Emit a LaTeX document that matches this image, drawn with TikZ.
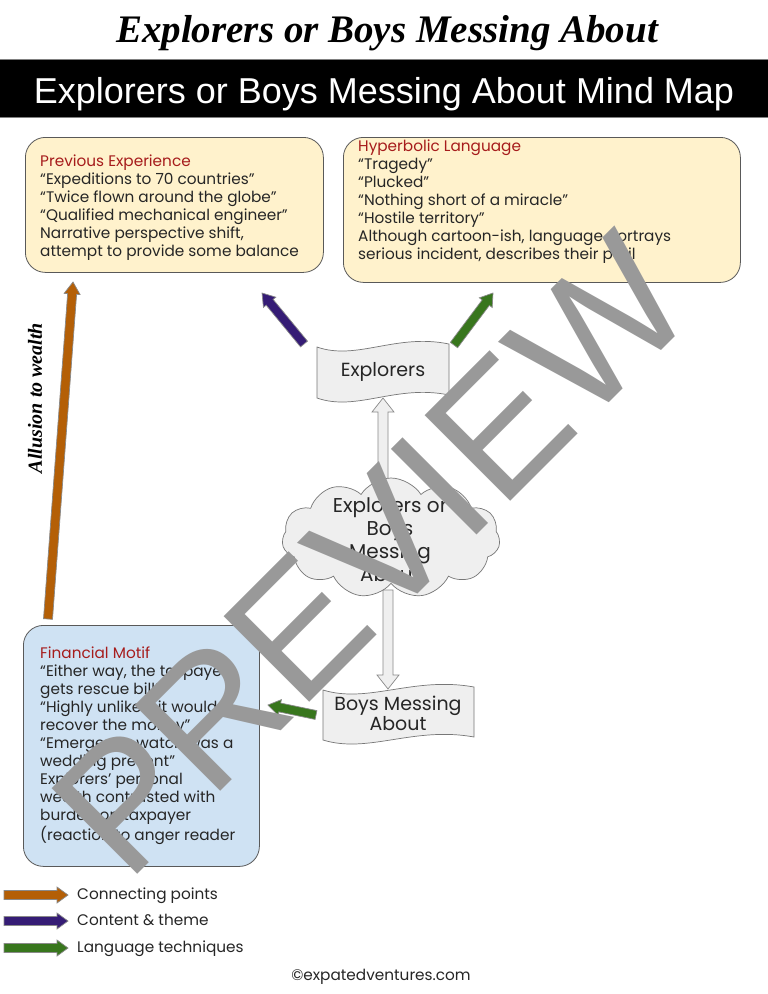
\documentclass[tikz,border=0pt]{standalone}
\usepackage{fontspec}
\setmainfont{Poppins}
\newfontfamily\hdrfont{Liberation Sans}
\newfontfamily\titlefnt{Liberation Serif}
\usetikzlibrary{shapes.symbols,calc}
\definecolor{yellowbox}{HTML}{FFF2CC}
\definecolor{bluebox}{HTML}{CFE2F3}
\definecolor{boxedge}{HTML}{595959}
\definecolor{titlered}{HTML}{A61C1C}
\definecolor{arrorange}{HTML}{B45F06}
\definecolor{arrpurple}{HTML}{351C75}
\definecolor{arrgreen}{HTML}{38761D}
\definecolor{shapefill}{HTML}{EFEFEF}
\definecolor{edgegray}{HTML}{777777}
\definecolor{arrowedge}{HTML}{8A8A8A}
\definecolor{wmgray}{HTML}{999999}
\definecolor{bodytext}{HTML}{262626}
\newcommand\blockarrow[6]{%
  \coordinate (ba-h) at ($(#2)!#6!(#1)$);
  \filldraw[fill=#3, draw=arrowedge, line width=0.7pt, line join=miter]
    ($(#1)!#4!90:(#2)$) -- ($(ba-h)!#4!-90:(#1)$) -- ($(ba-h)!#5!-90:(#1)$) -- (#2)
    -- ($(ba-h)!#5!90:(#1)$) -- ($(ba-h)!#4!90:(#1)$) -- ($(#1)!#4!-90:(#2)$) -- cycle;}
\newcommand\wavebox[4]{%
  \filldraw[fill=shapefill, draw=edgegray, line width=0.7pt]
  (#1,#2) .. controls ({#1+0.3*(#3-#1)},{#2+14}) and ({#1+0.6*(#3-#1)},{#2-14}) .. (#3,#2-3)
  -- (#3,#4-3) .. controls ({#1+0.6*(#3-#1)},{#4-14}) and ({#1+0.3*(#3-#1)},{#4+14}) .. (#1,#4) -- cycle;}
\tikzset{
  roundbox/.style={draw=boxedge, line width=0.8pt, rounded corners=20, inner sep=0pt, anchor=north west},
  boxtext/.style={anchor=base west, align=left, inner sep=0pt, text=bodytext,
    font=\fontsize{15.3}{18}\selectfont},
  shapetext/.style={align=center, inner sep=0pt, text=bodytext, font=\fontsize{19}{20}\selectfont},
  legendtext/.style={anchor=base west, inner sep=0pt, text=bodytext, font=\fontsize{15.3}{18}\selectfont},
}
\newcommand\boxtitle[1]{\textcolor{titlered}{#1}}
\begin{document}
\begin{tikzpicture}[x=1pt,y=-1pt]
\useasboundingbox (0,0) rectangle (768,994);
\fill[white] (0,0) rectangle (768,994);

% title
\node[inner sep=0pt, anchor=base, font=\titlefnt\bfseries\itshape\fontsize{39}{40}\selectfont] (title) at (387,42) {Explorers or Boys Messing About};
% header bar
\fill[black] (0,59) rectangle (768,117);
\draw[gray, line width=0.8pt] (0,59) -- (768,59) (0,117) -- (768,117);
\node[inner sep=0pt, anchor=base, text=white, font=\hdrfont\fontsize{36}{40}\selectfont] (header) at (384,103) {Explorers or Boys Messing About Mind Map};

% boxes (text anchored at the baseline of its last line)
\node[roundbox, fill=yellowbox, minimum width=298, minimum height=135] (prev) at (25,137) {};
\node[boxtext] (prevtext) at (40,256) {\boxtitle{Previous Experience}\\“Expeditions to 70 countries”\\“Twice flown around the globe”\\“Qualified mechanical engineer”\\Narrative perspective shift,\\attempt to provide some balance};

\node[roundbox, fill=yellowbox, minimum width=397, minimum height=145] (hyper) at (343,137) {};
\node[boxtext] (hypertext) at (358,259) {\boxtitle{Hyperbolic Language}\\“Tragedy”\\“Plucked”\\“Nothing short of a miracle”\\“Hostile territory”\\Although cartoon-ish, language portrays\\serious incident, describes their peril};

\node[roundbox, fill=bluebox, minimum width=236, minimum height=241] (fin) at (23,625) {};
\node[boxtext] (fintext) at (40,840) {\boxtitle{Financial Motif}\\“Either way, the taxpayer\\gets rescue bill”\\“Highly unlikely it would\\recover the money”\\“Emergency watch was a\\wedding present”\\Explorers’ personal\\wealth contrasted with\\burden on taxpayer\\(reaction to anger reader};

% hollow arrows (behind the cloud)
\coordinate (upTail) at (383,505);
\coordinate (upTip) at (383,398);
\coordinate (dnTail) at (388,590);
\coordinate (dnTip) at (388,689);
\blockarrow{upTail}{upTip}{shapefill}{5pt}{11pt}{14pt}
\blockarrow{dnTail}{dnTip}{shapefill}{5pt}{11pt}{14pt}

% central shapes
\wavebox{317}{347}{449}{398}
\node[shapetext] (explorers) at (383,372) {Explorers};
\wavebox{323}{690}{474}{740}
\node[shapetext] (boys) at (398,713) {Boys Messing\\About};
\node[cloud, cloud puffs=11, cloud puff arc=115, aspect=1.8, minimum width=218, minimum height=120,
  fill=shapefill, draw=edgegray, line width=0.7pt, inner sep=0pt] (cloud) at (391,538) {};
\node[align=center, inner sep=0pt, text=bodytext, font=\fontsize{20}{23}\selectfont] (cloudtext) at (390,540) {Explorers or\\Boys\\Messing\\About};

% coloured arrows
\coordinate (oTail) at (48,619);
\coordinate (oTip) at (73,282);
\blockarrow{oTail}{oTip}{arrorange}{4.5pt}{8pt}{12pt}
\coordinate (pTail) at (304,344);
\coordinate (pTip) at (262,293);
\blockarrow{pTail}{pTip}{arrpurple}{4.5pt}{8pt}{12pt}
\coordinate (gTail) at (454,345);
\coordinate (gTip) at (493,293);
\blockarrow{gTail}{gTip}{arrgreen}{4.5pt}{8pt}{12pt}
\coordinate (g2Tail) at (316,715);
\coordinate (g2Tip) at (268,705);
\blockarrow{g2Tail}{g2Tip}{arrgreen}{4.5pt}{8pt}{12pt}

\node[rotate=90, inner sep=0pt, font=\titlefnt\bfseries\itshape\fontsize{20}{22}\selectfont] (allusion) at (35,398) {Allusion to wealth};

% legend
\coordinate (l1a) at (4,895); \coordinate (l1b) at (68,895);
\coordinate (l2a) at (4,921); \coordinate (l2b) at (68,921);
\coordinate (l3a) at (4,948); \coordinate (l3b) at (68,948);
\blockarrow{l1a}{l1b}{arrorange}{4.5pt}{8pt}{11pt}
\blockarrow{l2a}{l2b}{arrpurple}{4.5pt}{8pt}{11pt}
\blockarrow{l3a}{l3b}{arrgreen}{4.5pt}{8pt}{11pt}
\node[legendtext] (leg1) at (77,899) {Connecting points};
\node[legendtext] (leg2) at (77,925) {Content \& theme};
\node[legendtext] (leg3) at (77,952) {Language techniques};

\node[inner sep=0pt, anchor=base, text=bodytext, font=\fontsize{15.3}{18}\selectfont] (copy) at (381,980) {©expatedventures.com};

% watermark
\node[rotate=45, anchor=base, inner sep=0pt, text=wmgray, font=\hdrfont\fontsize{176}{176}\selectfont] (wm) at (414,598) {PREVIEW};
\end{tikzpicture}
\end{document}
